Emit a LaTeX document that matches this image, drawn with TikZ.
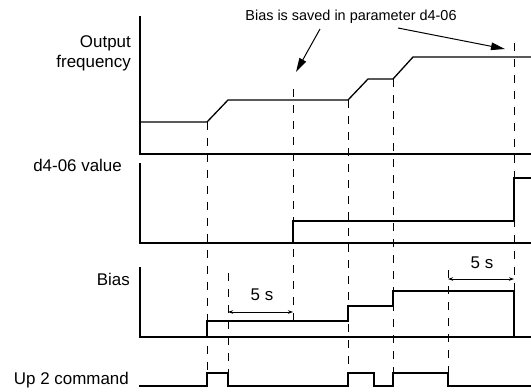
\documentclass[tikz,border=0pt]{standalone}
\usepackage{fontspec}
\setmainfont{Liberation Sans}
\usetikzlibrary{arrows.meta}
\begin{document}
\begin{tikzpicture}[x=1bp,y=-1bp,
  sig/.style={line width=1.3bp, line join=miter},
  axisline/.style={line width=1.3bp},
  guide/.style={line width=0.9bp, dash pattern=on 8bp off 8bp},
  lbl/.style={font=\fontsize{17}{22}\selectfont, inner sep=0pt},
  notetext/.style={font=\fontsize{14.5}{17}\selectfont, inner sep=0pt},
  dur/.style={line width=0.8bp, {Stealth[length=5bp,width=3.5bp]}-{Stealth[length=5bp,width=3.5bp]}},
  pointer/.style={line width=1bp, -{Triangle[length=14bp,width=7.5bp]}}]
\useasboundingbox (0,0) rectangle (531,391);

% labels
\node[lbl, anchor=base east] (lout) at (131,47) {Output};
\node[lbl, anchor=base east] (lfreq) at (131,67) {frequency};
\node[lbl, anchor=base east] (ld4) at (122,171.7) {d4-06 value};
\node[lbl, anchor=base east] (lbias) at (130,285.7) {Bias};
\node[lbl, anchor=base east] (lup) at (129,384.3) {Up 2 command};
\node[notetext, anchor=base] (note) at (351,20) {Bias is saved in parameter d4-06};

% guide lines
\draw[guide] (207,122) -- (207,373);
\draw[guide] (228,273) -- (228,373);
\draw[guide] (293,89) -- (293,321);
\draw[guide] (348,100) -- (348,373);
\draw[guide] (393,79) -- (393,373);
\draw[guide] (448,270) -- (448,373);
\draw[guide] (514,43) -- (514,291);

% axes
\draw[axisline] (140,16) -- (140,154) -- (531,154);
\draw[axisline] (140,163) -- (140,243) -- (531,243);
\draw[axisline] (140,267) -- (140,337) -- (531,337);

% output frequency
\draw[sig] (140,122) -- (207,122) -- (228,100) -- (348,100) -- (368,79) -- (393,79) -- (413,57) -- (531,57);
% d4-06 value
\draw[sig] (293,243) -- (293,221) -- (514,221) -- (514,178) -- (531,178);
% bias
\draw[sig] (207,337) -- (207,321) -- (348,321) -- (348,306) -- (393,306) -- (393,291) -- (514,291) -- (514,337);
% up 2 command
\draw[sig] (139,386) -- (207,386) -- (207,373) -- (228,373) -- (228,386) -- (348,386) -- (348,373) -- (374,373) -- (374,386) -- (393,386) -- (393,373) -- (448,373) -- (448,386) -- (531,386);

% 5 s durations
\coordinate (d1a) at (228,312);
\coordinate (d1b) at (293,312);
\draw[dur] (d1a) -- (d1b);
\node[lbl, anchor=base] (t1) at (262,300) {5 s};
\coordinate (d2a) at (448,279);
\coordinate (d2b) at (514,279);
\draw[dur] (d2a) -- (d2b);
\node[lbl, anchor=base] (t2) at (482,268.3) {5 s};

% pointers
\coordinate (p1s) at (320,29);
\coordinate (p1e) at (296,72);
\coordinate (p2s) at (398,28);
\coordinate (p2e) at (505,49);
\draw[pointer] (p1s) -- (p1e);
\draw[pointer] (p2s) -- (p2e);
\end{tikzpicture}
\end{document}
